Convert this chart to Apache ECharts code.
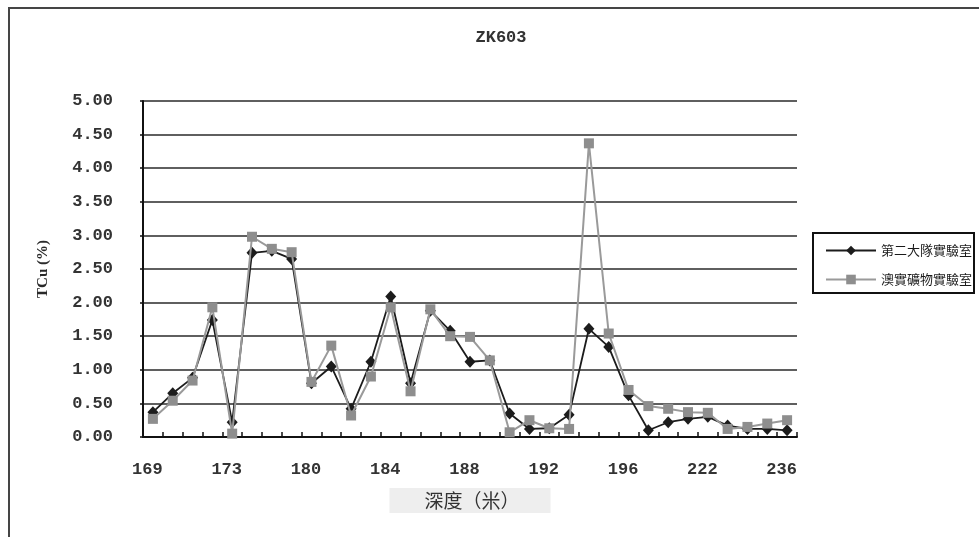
<!DOCTYPE html>
<html>
<head>
<meta charset="utf-8">
<script src="https://cdn.jsdelivr.net/npm/echarts@6/dist/echarts.min.js"></script>
<style>
  html, body { margin: 0; padding: 0; background: #fff; }
  #chart { width: 979px; height: 537px; }
</style>
</head>
<body>
<div id="chart"></div>
<script>
// Depth tick labels (every fourth sample along the hole)
const depthLabels = ['169', '173', '180', '184', '188', '192', '196', '222', '236'];

// TCu (%) assays, one value per sample
const lab2ndBrigade = [0.37, 0.65, 0.88, 1.74, 0.22, 2.74, 2.77, 2.65, 0.80, 1.05,
                       0.42, 1.12, 2.09, 0.80, 1.88, 1.58, 1.12, 1.14, 0.35, 0.12,
                       0.13, 0.33, 1.61, 1.34, 0.62, 0.10, 0.22, 0.27, 0.30, 0.17,
                       0.12, 0.12, 0.10];
const labALS = [0.27, 0.54, 0.84, 1.93, 0.05, 2.98, 2.80, 2.75, 0.82, 1.36,
                0.32, 0.90, 1.93, 0.68, 1.90, 1.50, 1.49, 1.14, 0.07, 0.25,
                0.13, 0.12, 4.37, 1.54, 0.70, 0.46, 0.42, 0.37, 0.36, 0.12,
                0.15, 0.20, 0.25];

const seriesNames = ['第二大隊實驗室', '澳實礦物實驗室'];

const sampleIndex = lab2ndBrigade.map((_, i) => String(i));
const monoFont = '"Liberation Mono", monospace';

const chart = echarts.init(document.getElementById('chart'), null, { renderer: 'canvas' });

chart.setOption({
  backgroundColor: '#ffffff',
  animation: false,
  graphic: [{
    type: 'rect',
    shape: { x: 9, y: 8, width: 1000, height: 600 },
    style: { fill: 'none', stroke: '#454545', lineWidth: 2 },
    silent: true
  }],
  title: {
    text: 'ZK603',
    left: 496,
    top: 24,
    textAlign: 'center',
    textStyle: { fontFamily: monoFont, fontSize: 17, fontWeight: 'bold', color: '#333' }
  },
  legend: {
    orient: 'vertical',
    left: 813,
    top: 233,
    padding: [11, 2, 7, 12],
    itemGap: 16,
    itemWidth: 50,
    itemHeight: 12,
    borderColor: '#111',
    borderWidth: 2,
    textStyle: { fontFamily: '"Noto Sans CJK TC", sans-serif', fontSize: 13, color: '#1a1a1a', padding: [0, 0, 0, 0] },
    data: seriesNames
  },
  grid: { left: 143, right: 182, top: 101, bottom: 100, containLabel: false },
  xAxis: {
    type: 'category',
    data: sampleIndex,
    boundaryGap: true,
    name: '深度（米）',
    nameLocation: 'middle',
    nameGap: 51,
    nameTextStyle: {
      fontFamily: '"Noto Sans CJK TC", sans-serif',
      fontSize: 19,
      color: '#333',
      backgroundColor: '#eeeeee',
      padding: [2, 31, 2, 35],
      lineHeight: 21
    },
    axisLine: { show: true, lineStyle: { color: '#111', width: 2 } },
    axisTick: { show: true, inside: true, length: 5, interval: 0, lineStyle: { color: '#111', width: 1.5 } },
    axisLabel: {
      interval: 3,
      margin: 24,
      padding: [0, 11, 0, 0],
      fontFamily: monoFont,
      fontSize: 17,
      fontWeight: 'bold',
      color: '#333',
      formatter: (v, i) => (i % 4 === 0 ? depthLabels[i / 4] : '')
    },
    splitLine: { show: false }
  },
  yAxis: {
    type: 'value',
    min: 0,
    max: 5,
    interval: 0.5,
    name: 'TCu (%)',
    nameLocation: 'middle',
    nameGap: 92,
    nameRotate: 90,
    nameTextStyle: { fontFamily: '"Liberation Serif", serif', fontSize: 15, fontWeight: 'bold', color: '#2a2a2a' },
    axisLine: { show: true, lineStyle: { color: '#111', width: 2 } },
    axisTick: { show: true, length: 3, lineStyle: { color: '#111', width: 1.5 } },
    axisLabel: {
      margin: 30,
      fontFamily: monoFont,
      fontSize: 17,
      fontWeight: 'bold',
      color: '#333',
      formatter: v => v.toFixed(2)
    },
    splitLine: { show: true, lineStyle: { color: '#2a2a2a', width: 1.5 } }
  },
  series: [
    {
      name: seriesNames[0],
      type: 'line',
      data: lab2ndBrigade,
      symbol: 'diamond',
      symbolSize: [11, 12],
      itemStyle: { color: '#1c1c1c' },
      lineStyle: { color: '#1c1c1c', width: 1.8 },
      z: 2
    },
    {
      name: seriesNames[1],
      type: 'line',
      data: labALS,
      symbol: 'rect',
      symbolSize: 10,
      itemStyle: { color: '#8e8e8e' },
      lineStyle: { color: '#9a9a9a', width: 2 },
      z: 3
    }
  ]
});
</script>
</body>
</html>
